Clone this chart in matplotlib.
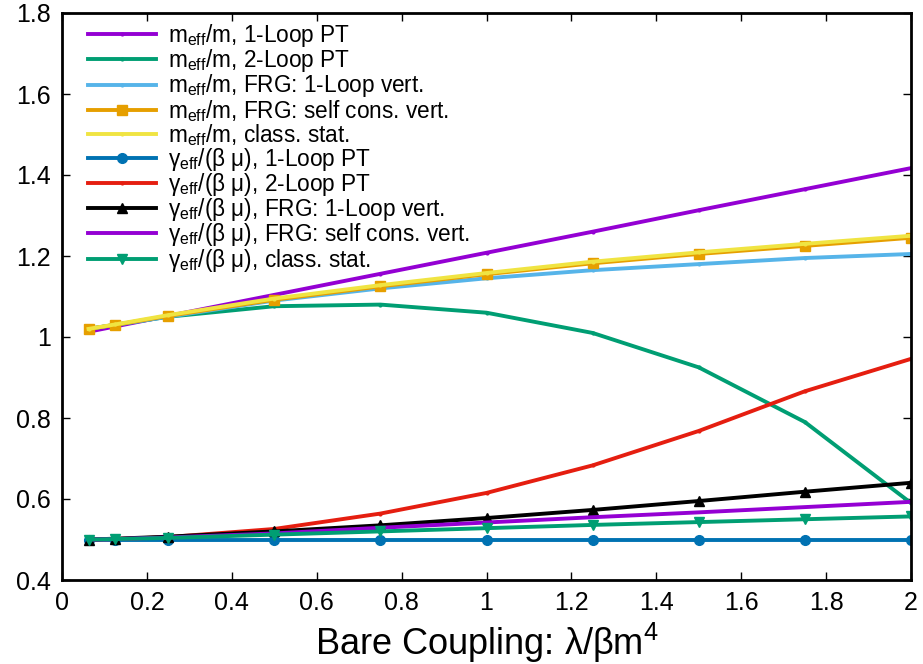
import matplotlib
matplotlib.use("Agg")
import matplotlib.pyplot as plt

plt.rcParams["font.family"] = ["Liberation Sans", "DejaVu Sans"]
plt.rcParams["mathtext.fontset"] = "custom"
plt.rcParams["mathtext.rm"] = "Liberation Sans"
plt.rcParams["mathtext.it"] = "Liberation Sans"

lam = [0.0625, 0.125, 0.25, 0.5, 0.75, 1.0, 1.25, 1.5, 1.75, 2.0]

m_1loop = [1.013, 1.026, 1.052, 1.104, 1.156, 1.208, 1.26, 1.313, 1.365, 1.417]
m_2loop = [1.02, 1.03, 1.05, 1.076, 1.08, 1.06, 1.01, 0.925, 0.79, 0.59]
m_frg_1l = [1.02, 1.03, 1.05, 1.09, 1.12, 1.145, 1.165, 1.18, 1.195, 1.205]
m_frg_sc = [1.02, 1.03, 1.052, 1.092, 1.125, 1.155, 1.182, 1.205, 1.225, 1.245]
m_class = [1.02, 1.031, 1.054, 1.095, 1.128, 1.158, 1.186, 1.209, 1.23, 1.25]

g_1loop = [0.5, 0.5, 0.5, 0.5, 0.5, 0.5, 0.5, 0.5, 0.5, 0.5]
g_2loop = [0.5, 0.501, 0.506, 0.526, 0.564, 0.615, 0.683, 0.768, 0.866, 0.946]
g_frg_1l = [0.5, 0.502, 0.507, 0.52, 0.535, 0.553, 0.573, 0.595, 0.618, 0.64]
g_frg_sc = [0.5, 0.501, 0.505, 0.515, 0.529, 0.542, 0.555, 0.567, 0.58, 0.593]
g_class = [0.5, 0.501, 0.504, 0.512, 0.52, 0.528, 0.536, 0.543, 0.55, 0.557]

M = r"m$_{\rm eff}$/m, "
G = r"γ$_{\rm eff}$/(β μ), "
series = [
    (m_1loop, M + "1-Loop PT", "#9400d3", "."),
    (m_2loop, M + "2-Loop PT", "#009e73", "."),
    (m_frg_1l, M + "FRG: 1-Loop vert.", "#56b4e9", "."),
    (m_frg_sc, M + "FRG: self cons. vert.", "#e69f00", "s"),
    (m_class, M + "class. stat.", "#f0e442", "."),
    (g_1loop, G + "1-Loop PT", "#0072b2", "o"),
    (g_2loop, G + "2-Loop PT", "#e51e10", "."),
    (g_frg_1l, G + "FRG: 1-Loop vert.", "#000000", "^"),
    (g_frg_sc, G + "FRG: self cons. vert.", "#9400d3", ""),
    (g_class, G + "class. stat.", "#009e73", "v"),
]

fig = plt.figure(figsize=(9.23, 6.64), dpi=100)
ax = fig.add_axes([62 / 923, 1 - 580 / 664, (911 - 62) / 923, (580 - 13) / 664])

for y, lab, col, mk in series:
    ms = 7 if mk in ("s", "o", "^", "v") else 4
    ax.plot(lam, y, color=col, lw=2.8, marker=mk, ms=ms, label=lab)

ax.set_xlim(0, 2)
ax.set_ylim(0.4, 1.8)
ax.set_xticks([0, 0.2, 0.4, 0.6, 0.8, 1, 1.2, 1.4, 1.6, 1.8, 2])
ax.set_xticklabels(["0", "0.2", "0.4", "0.6", "0.8", "1", "1.2", "1.4", "1.6", "1.8", "2"])
ax.set_yticks([0.4, 0.6, 0.8, 1.0, 1.2, 1.4, 1.6, 1.8])
ax.set_yticklabels(["0.4", "0.6", "0.8", "1", "1.2", "1.4", "1.6", "1.8"])
ax.tick_params(direction="in", top=True, right=True, length=6, width=1,
               labelsize=18, pad=8)
for s in ax.spines.values():
    s.set_linewidth(2)
ax.set_xlabel(r"Bare Coupling: λ/βm$^4$", fontsize=26, labelpad=4)

ax.legend(loc="upper left", frameon=False, fontsize=16.3, handlelength=3.0,
          labelspacing=-0.08, borderaxespad=0.0, handletextpad=0.55,
          bbox_to_anchor=(0.02, 1.0))

fig.savefig("out.png", dpi=100)
